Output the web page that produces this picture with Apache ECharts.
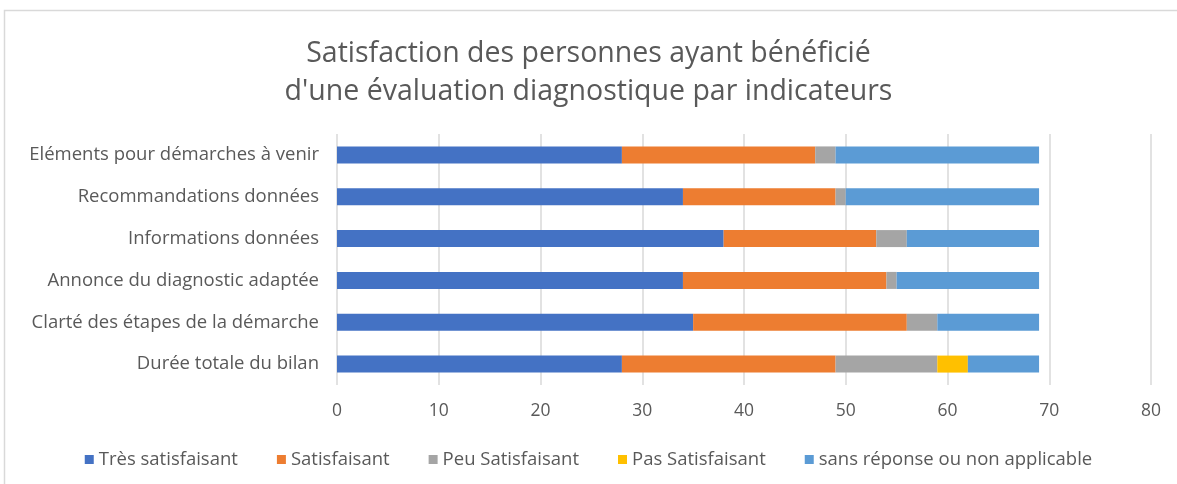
<!DOCTYPE html>
<html>
<head>
<meta charset="utf-8">
<script src="https://cdn.jsdelivr.net/npm/echarts@6/dist/echarts.min.js"></script>
<style>
  html, body { margin: 0; padding: 0; background: #fff; }
  #chart { width: 1177px; height: 484px; }
</style>
</head>
<body>
<div id="chart"></div>
<script>
// indicateurs (de bas en haut)
const indicateurs = [
  'Durée totale du bilan',
  'Clarté des étapes de la démarche',
  'Annonce du diagnostic adaptée',
  'Informations données',
  'Recommandations données',
  'Eléments pour démarches à venir'
];

const tresSatisfaisant = [28, 35, 34, 38, 34, 28];
const satisfaisant     = [21, 21, 20, 15, 15, 19];
const peuSatisfaisant  = [10, 3, 1, 3, 1, 2];
const pasSatisfaisant  = [3, 0, 0, 0, 0, 0];
const sansReponse      = [7, 10, 14, 13, 19, 20];

const chart = echarts.init(document.getElementById('chart'));

const font = '"Open Sans", "Liberation Sans", sans-serif';
const grey = '#595959';

function serie(name, data, color) {
  return {
    name: name,
    type: 'bar',
    stack: 'total',
    data: data,
    barWidth: 17,
    itemStyle: { color: color },
    emphasis: { disabled: true }
  };
}

chart.setOption({
  animation: false,
  textStyle: { fontFamily: font },
  title: {
    text: 'Satisfaction des personnes ayant bénéficié\nd\'une évaluation diagnostique par indicateurs',
    left: 'center',
    top: 30,
    textStyle: { color: grey, fontSize: 28.5, fontWeight: 'normal', lineHeight: 38, fontFamily: font }
  },
  graphic: [{
    type: 'rect',
    shape: { x: 4.5, y: 10.5, width: 1180, height: 490 },
    style: { fill: 'none', stroke: '#d9d9d9', lineWidth: 1.5 },
    silent: true
  }],
  legend: {
    bottom: 10,
    left: 'center',
    itemWidth: 9,
    itemHeight: 9,
    itemGap: 39,
    icon: 'rect',
    textStyle: { color: grey, fontSize: 18.5, fontFamily: font },
    data: ['Très satisfaisant', 'Satisfaisant', 'Peu Satisfaisant', 'Pas Satisfaisant', 'sans réponse ou non applicable']
  },
  grid: { left: 337, right: 26, top: 134, bottom: 99 },
  xAxis: {
    type: 'value',
    min: 0,
    max: 80,
    interval: 10,
    axisLine: { show: false },
    axisTick: { show: false },
    axisLabel: { color: grey, fontSize: 17.5, margin: 17, fontFamily: font },
    splitLine: { lineStyle: { color: '#d9d9d9', width: 1.5 } }
  },
  yAxis: {
    type: 'category',
    data: indicateurs,
    axisLine: { show: false },
    axisTick: { show: false },
    axisLabel: { color: grey, fontSize: 18.5, margin: 18, fontFamily: font }
  },
  series: [
    serie('Très satisfaisant', tresSatisfaisant, '#4472c4'),
    serie('Satisfaisant', satisfaisant, '#ed7d31'),
    serie('Peu Satisfaisant', peuSatisfaisant, '#a5a5a5'),
    serie('Pas Satisfaisant', pasSatisfaisant, '#ffc000'),
    serie('sans réponse ou non applicable', sansReponse, '#5b9bd5')
  ]
});

window.addEventListener('resize', () => chart.resize());
</script>
</body>
</html>
